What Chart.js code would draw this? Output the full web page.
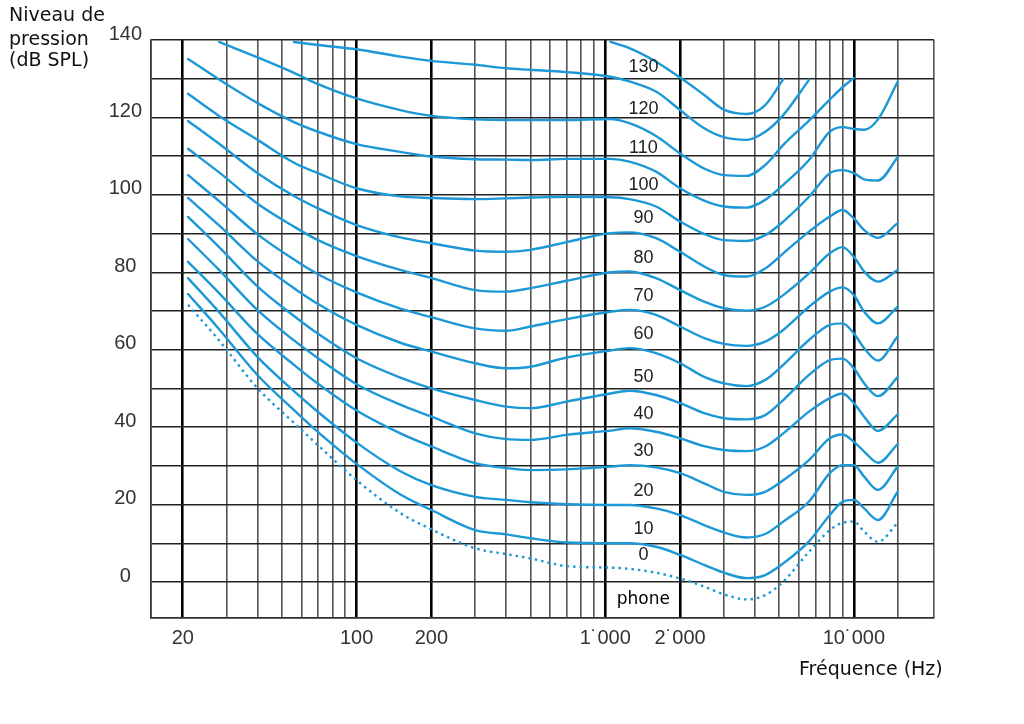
<!DOCTYPE html>
<html>
<head>
<meta charset="utf-8">
<script src="https://cdn.jsdelivr.net/npm/chart.js@4.4.1/dist/chart.umd.min.js"></script>
<style>
  html, body { margin: 0; padding: 0; background: #fff; }
  #wrap { width: 1024px; height: 724px; position: relative; }
</style>
</head>
<body>
<div id="wrap"><canvas id="c" width="1024" height="724"></canvas></div>
<script>
// ---- data ----
const freqHz = [21, 28, 40, 56, 70, 100, 150, 200, 300, 400, 500, 700, 1050, 1250, 1600, 2000, 2500, 3000, 3700, 4400, 5200, 6600, 8000, 9000, 10000, 11000, 12500, 15000];

const phon0   = [71.6, 62.4, 50, 41.1, 35.3, 26.3, 17.8, 13.6, 8.7, 7.2, 6.1, 4.1, 3.7, 3.4, 2.4, 0.9, -1.2, -3.2, -4.5, -3.4, 0.1, 7.8, 13.4, 15.3, 15.6, 13, 10.4, 15.3];
const phon10  = [74.4, 65.3, 53.4, 44.4, 38.7, 30.5, 22.6, 18.6, 13.4, 12.3, 11.3, 10.2, 10, 10, 9.1, 7, 4.4, 2.4, 1, 1.8, 4.8, 10.5, 17.3, 20.7, 21.2, 19, 16, 23.3];
const phon20  = [78.5, 69.7, 58.1, 49.3, 43.9, 36, 28.6, 25, 22, 21.2, 20.6, 20.1, 19.9, 19.9, 19, 17.3, 14.7, 12.8, 11.5, 12.4, 15.6, 20.8, 28.1, 30.2, 30.2, 27.2, 23.8, 29.8];
const phon30  = [82.7, 74.6, 64, 56.1, 51.2, 44.3, 38.4, 35, 30.7, 29.4, 28.9, 29.1, 29.8, 30.2, 29.6, 28.1, 25.5, 23.3, 22.5, 23.3, 26.3, 31.5, 37.1, 38.1, 36.2, 33.7, 30.8, 35.6];
const phon40  = [88.6, 80.6, 70.2, 62.4, 57.8, 51.1, 45.8, 42.7, 38.4, 36.9, 36.7, 38, 39.1, 39.7, 38.8, 37.1, 35.1, 34.1, 33.8, 35, 38.4, 44, 47.5, 48.7, 46.2, 42.7, 39, 43.3];
const phon50  = [94.3, 86.5, 76.3, 68.7, 64.1, 57.8, 52.8, 50, 47, 45.3, 44.9, 46.6, 48.7, 49.4, 48.3, 46.2, 43.6, 42.3, 42, 43.1, 47, 53.5, 57.3, 57.7, 55.2, 51.3, 48, 52.9];
const phon60  = [99.2, 92.1, 82.8, 75.9, 71.8, 66.4, 61.8, 59.5, 56.5, 55.2, 55.6, 58, 59.8, 60.4, 59.1, 56.5, 53, 51.3, 50.6, 52.2, 56.1, 62.5, 66.4, 66.8, 64.2, 60.4, 57.2, 63.5];
const phon70  = [105.1, 98.4, 89.8, 83.3, 79.5, 74.8, 70.6, 68.4, 65.5, 64.9, 66, 67.9, 69.8, 70.3, 69, 66, 63, 61.5, 61, 62.1, 65.1, 71.1, 75, 76.1, 74.1, 69.8, 66.8, 71.1];
const phon80  = [111.9, 105.8, 97.7, 91.8, 88.3, 84.2, 80.6, 78.5, 75.4, 75, 75.9, 77.8, 80, 80.2, 78.5, 75.4, 72.4, 70.7, 70.1, 71.1, 74.1, 79.7, 84.9, 86.5, 84, 80.2, 77.6, 80.6];
const phon90  = [119.1, 113.2, 105.6, 99.7, 96.5, 92.2, 89, 87.5, 85.6, 85.3, 85.8, 87.8, 90.1, 90.3, 88.8, 85.3, 81.5, 79.3, 78.9, 81, 84.9, 90.5, 94.4, 96.1, 93.9, 90.9, 88.9, 92.7];
const phon100 = [126.1, 120.4, 114.2, 108.3, 105.6, 101.7, 99.6, 99.2, 98.9, 99.1, 99.3, 99.5, 99.4, 98.9, 97, 93.1, 89.9, 88.3, 88.1, 89.6, 93.1, 99.5, 105.6, 106.4, 105.6, 104, 103.7, 109.7];
const phon110 = [135.1, 129.8, 123.7, 118.8, 116.3, 113.1, 111.1, 109.9, 109.2, 109.1, 109, 109.3, 109.3, 108.6, 106, 101.7, 98.5, 97, 96.7, 98.7, 102.6, 109, 116.3, 117.5, 117, 116.8, 119.5, 129.2];
const phon120 = [null, 139.5, 135.5, 131.5, 128.6, 124.9, 121.9, 120.4, 119.5, 119.3, 119.3, 119.3, 119.6, 118.5, 115.2, 110.7, 106.8, 105.1, 104.9, 107.7, 112.9, 119.2, 124.6, 127.8, 130.2, null, null, null];
const phon130 = [null, null, null, 139.5, 138.7, 137.6, 135.7, 134.6, 133.6, 132.7, 132.3, 131.7, 130.5, 129.3, 126.7, 121.9, 117.2, 114.9, 114.2, 116.3, 120.6, 129.7, null, null, null, null, null, null];
const phon140 = [null, null, null, null, null, null, null, null, null, null, null, null, 139.5, 137.9, 134.4, 130.3, 125.8, 122, 120.9, 123.2, 129.9, null, null, null, null, null, null, null];

const seriesLevels = [0, 10, 20, 30, 40, 50, 60, 70, 80, 90, 100, 110, 120, 130, 140];
const seriesValues = [phon0, phon10, phon20, phon30, phon40, phon50, phon60, phon70, phon80, phon90, phon100, phon110, phon120, phon130, phon140];
const curveLabels = ['0', '10', '20', '30', '40', '50', '60', '70', '80', '90', '100', '110', '120', '130'];

const xGridHz = [20, 30, 40, 50, 60, 70, 80, 90, 100, 200, 300, 400, 500, 600, 700, 800, 900, 1000, 2000, 3000, 4000, 5000, 6000, 7000, 8000, 9000, 10000, 15000];
const xMajorHz = [20, 100, 200, 1000, 2000, 10000];
const xTickText = {20: '20', 100: '100', 200: '200', 1000: '1˙000', 2000: '2˙000', 10000: '10˙000'};
const yGridDb = [0, 10, 20, 30, 40, 50, 60, 70, 80, 90, 100, 110, 120, 130, 140];
const yLabelDb = [0, 20, 40, 60, 80, 100, 120, 140];

// ---- chart ----
const X_MIN = 14.9, X_MAX = 21000, Y_MIN = -9.3, Y_MAX = 140;
const BLUE = '#1b98d5';
const LABEL_FREQ = 1424;            // where the phon numbers are written
const LABEL_REF_INDEX = freqHz.indexOf(1250);

const datasets = seriesValues.map((vals, si) => ({
  label: seriesLevels[si] + ' phone',
  data: freqHz.map((f, i) => ({ x: f, y: vals[i] })).filter(p => p.y !== null),
  borderColor: BLUE,
  borderWidth: 2.4,
  borderDash: si === 0 ? [2.5, 4] : [],
  pointRadius: 0,
  fill: false,
  cubicInterpolationMode: 'monotone',
  borderCapStyle: si === 0 ? 'butt' : 'round'
}));

const textPlugin = {
  id: 'texts',
  afterDraw(chart) {
    const { ctx, scales: { x, y } } = chart;
    ctx.save();
    ctx.fillStyle = '#111';
    ctx.font = '19px "DejaVu Sans"';
    ctx.textAlign = 'left';
    ctx.textBaseline = 'alphabetic';
    ctx.fillText('Niveau de', 9, 21);
    ctx.fillText('pression', 9, 45);
    ctx.fillText('(dB SPL)', 9, 66);
    ctx.fillText('Fréquence (Hz)', 799, 675);

    ctx.font = '18px "Liberation Sans"';
    ctx.fillStyle = '#222';
    ctx.textAlign = 'center';
    ctx.textBaseline = 'middle';
    const lx = x.getPixelForValue(LABEL_FREQ);
    curveLabels.forEach((t, i) => {
      const v = seriesValues[i][LABEL_REF_INDEX];
      ctx.fillText(t, lx, y.getPixelForValue(v + 3.6));
    });
    ctx.font = '17px "DejaVu Sans"';
    ctx.fillStyle = '#000';
    ctx.fillText('phone', lx, y.getPixelForValue(-4.6));
    ctx.restore();
  }
};

new Chart(document.getElementById('c'), {
  type: 'line',
  data: { datasets },
  options: {
    responsive: false,
    animation: false,
    devicePixelRatio: 1,
    layout: { padding: { left: 0, top: 40, right: 90, bottom: 0 } },
    plugins: { legend: { display: false }, tooltip: { enabled: false }, title: { display: false } },
    scales: {
      x: {
        type: 'logarithmic',
        min: X_MIN, max: X_MAX,
        afterBuildTicks: (s) => { s.ticks = [X_MIN, ...xGridHz, X_MAX].map(v => ({ value: v })); },
        afterFit: (s) => { s.height = 106; },
        ticks: {
          autoSkip: false, maxRotation: 0, minRotation: 0, padding: 8,
          color: '#333', font: { family: 'Liberation Sans', size: 20 },
          callback: (v) => xTickText[v] || ''
        },
        grid: {
          drawTicks: false,
          color: (c) => (c.tick && xMajorHz.includes(c.tick.value)) ? '#000' : '#555',
          lineWidth: (c) => (c.tick && xMajorHz.includes(c.tick.value)) ? 2.6 : 1.6
        },
        border: { display: true, color: '#333', width: 1.6 }
      },
      y: {
        type: 'linear',
        min: Y_MIN, max: Y_MAX,
        afterBuildTicks: (s) => { s.ticks = [Y_MIN, ...yGridDb].map(v => ({ value: v })); },
        afterFit: (s) => { s.width = 151; },
        ticks: {
          autoSkip: false, crossAlign: 'center', padding: 9, labelOffset: -6,
          color: '#333', font: { family: 'Liberation Sans', size: 20 },
          callback: (v) => yLabelDb.includes(v) ? String(v) : ''
        },
        grid: { drawTicks: false, color: '#222', lineWidth: 1.5 },
        border: { display: true, color: '#333', width: 1.6 }
      }
    }
  },
  plugins: [textPlugin]
});
</script>
</body>
</html>
